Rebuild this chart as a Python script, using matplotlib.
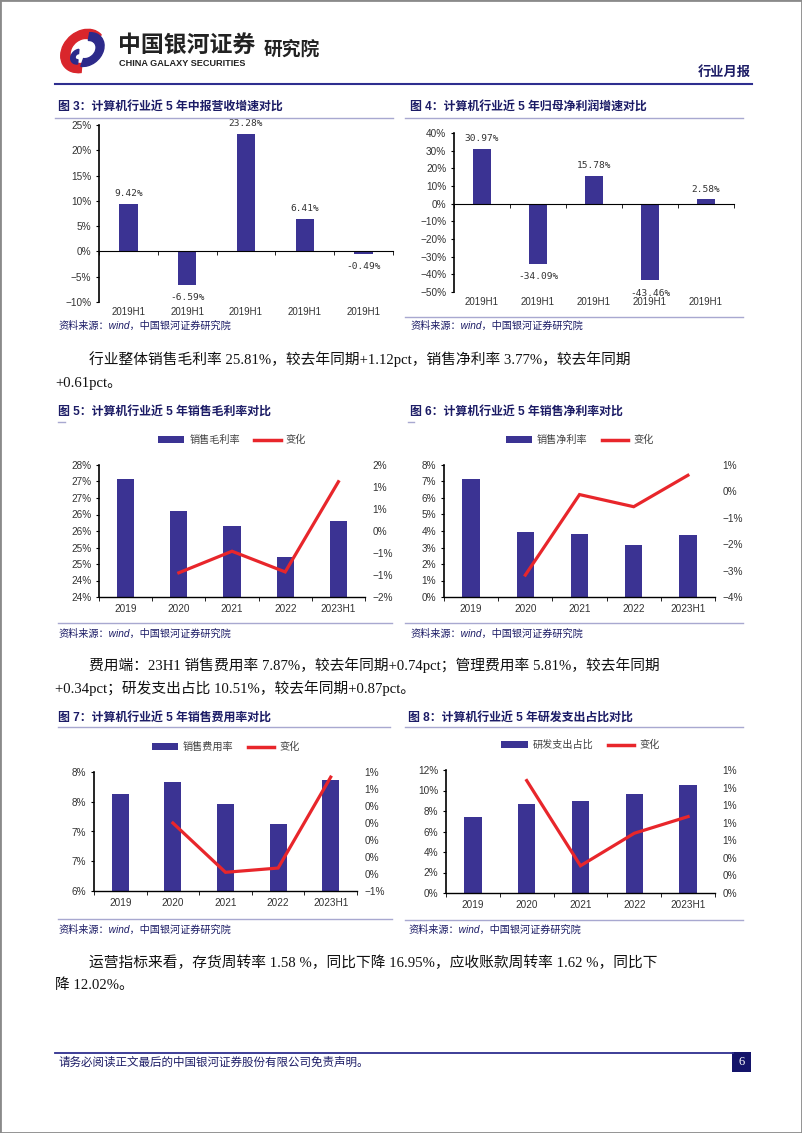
import math
import numpy as np
import matplotlib
matplotlib.use('Agg')
import matplotlib.pyplot as plt
from matplotlib.patches import Rectangle, Wedge, Patch
from matplotlib.lines import Line2D
from matplotlib.ticker import FuncFormatter
from matplotlib.transforms import Affine2D

plt.rcParams['font.family'] = ['Liberation Sans', 'Noto Sans CJK SC', 'DejaVu Sans']

W, H = 802, 1133

# ---- data ----
h1_labels = ['2019H1', '2019H1', '2019H1', '2019H1', '2019H1']
revenue_growth = [9.42, -6.59, 23.28, 6.41, -0.49]
profit_growth = [30.97, -34.09, 15.78, -43.46, 2.58]

years = ['2019', '2020', '2021', '2022', '2023H1']
gross_margin = [27.08, 26.11, 25.65, 24.71, 25.81]
gross_change = [-0.95, -0.46, -0.93, 1.12]
net_margin = [7.15, 3.96, 3.80, 3.18, 3.77]
net_change = [-3.17, -0.12, -0.58, 0.61]
sell_exp = [7.63, 7.84, 7.46, 7.13, 7.87]
sell_change = [0.20, -0.38, -0.33, 0.74]
rd_ratio = [7.46, 8.72, 9.00, 9.64, 10.51]
rd_change = [1.28, 0.31, 0.68, 0.87]

BAR = '#3B3393'
RED = '#E8262B'
NAVY = '#1c1c66'
RULE = '#a8a8d0'
TICKC = '#333333'

fig = plt.figure(figsize=(W / 100, H / 100), dpi=100)


def px_axes(x0, y0, x1, y1):
    return fig.add_axes([x0 / W, 1 - y1 / H, (x1 - x0) / W, (y1 - y0) / H])


def ftext(x, y, s, **kw):
    kw.setdefault('va', 'center')
    fig.text(x / W, 1 - y / H, s, **kw)


def hline(x0, x1, y, color=RULE, lw=1.0):
    fig.add_artist(Line2D([x0 / W, x1 / W], [1 - y / H, 1 - y / H], color=color, lw=lw))


def pct_round(v, pos=None):
    # whole-percent labels, halves rounded away from zero
    n = int(math.floor(abs(v) + 0.5 + 1e-9))
    if v < 0 and n != 0:
        return '\u2212%d%%' % n
    return '%d%%' % n


def growth_chart(box, labels, vals, lo, hi, step):
    ax = px_axes(*box)
    x = np.arange(len(vals))
    ax.bar(x, vals, width=0.31, color=BAR, zorder=2)
    ax.set_xlim(-0.5, len(vals) - 0.5)
    ax.set_ylim(lo, hi)
    ax.set_yticks(np.arange(lo, hi + step / 2, step))
    ax.yaxis.set_major_formatter(FuncFormatter(pct_round))
    for s in ['top', 'right']:
        ax.spines[s].set_visible(False)
    ax.spines['bottom'].set_position(('data', 0))
    ax.spines['bottom'].set_zorder(3)
    ax.spines['left'].set_linewidth(1.2)
    ax.set_xticks(x)
    ax.set_xticks(np.arange(-0.5, len(vals)), minor=True)
    ax.tick_params(axis='x', which='major', length=0, labelbottom=False)
    ax.tick_params(axis='x', which='minor', length=3, direction='out')
    ax.tick_params(axis='y', length=2.5, pad=3, labelsize=7.2, labelcolor=TICKC)
    for i, (lab, v) in enumerate(zip(labels, vals)):
        ax.annotate(lab, (i, 0), xycoords=('data', 'axes fraction'), xytext=(0, -3.3),
                    textcoords='offset points', ha='center', va='top', fontsize=7, color=TICKC)
        up = v >= 0
        ax.annotate('%.2f%%' % v, (i, v), xytext=(0, 4 if up else -6), textcoords='offset points',
                    ha='center', va='bottom' if up else 'top', fontsize=6.8,
                    family='DejaVu Sans Mono', color=TICKC, annotation_clip=False)
    return ax


def margin_chart(box, cats, bars, change, bar_label, lo, hi, step, rlo, rhi, rstep):
    ax = px_axes(*box)
    x = np.arange(len(cats))
    ax.bar(x, bars, width=0.32, color=BAR)
    ax.set_xlim(-0.5, len(cats) - 0.5)
    ax.set_ylim(lo, hi)
    ax.set_yticks(np.arange(lo, hi + step / 2, step))
    ax.yaxis.set_major_formatter(FuncFormatter(pct_round))
    for s in ['top', 'right']:
        ax.spines[s].set_visible(False)
    ax.spines['left'].set_linewidth(1.2)
    ax.spines['bottom'].set_linewidth(1.0)
    ax.set_xticks(x)
    ax.set_xticklabels(cats)
    ax.set_xticks(np.arange(-0.5, len(cats)), minor=True)
    ax.tick_params(axis='x', which='major', length=0, pad=5, labelsize=7.2, labelcolor=TICKC)
    ax.tick_params(axis='x', which='minor', length=3, direction='out')
    ax.tick_params(axis='y', length=2.5, pad=3, labelsize=7.2, labelcolor=TICKC)

    ax2 = ax.twinx()
    ax2.plot(x[1:], change, color=RED, lw=2.3, solid_joinstyle='miter')
    ax2.set_ylim(rlo, rhi)
    ax2.set_yticks(np.arange(rlo, rhi + rstep / 2, rstep))
    ax2.yaxis.set_major_formatter(FuncFormatter(pct_round))
    for s in ax2.spines.values():
        s.set_visible(False)
    ax2.tick_params(axis='y', length=0, pad=5.5, labelsize=7.2, labelcolor=TICKC)

    axh = box[3] - box[1]
    handles = [Patch(facecolor=BAR, edgecolor='none'), Line2D([], [], color=RED, lw=2.5)]
    ax2.legend(handles, [bar_label, '变化'], loc='center', bbox_to_anchor=(0.5, 1 + 25 / axh),
               ncol=2, frameon=False, fontsize=7.3, handlelength=2.6, handleheight=0.65,
               columnspacing=1.4, handletextpad=0.5, labelcolor='#404040')
    return ax


# ---- page frame and header ----
fig.add_artist(Rectangle((0, 0), 1, 1, transform=fig.transFigure, fill=False,
                         edgecolor='#8a8a8a', lw=2))

logo = px_axes(52, 25, 114, 77)
logo.set_xlim(-1.2, 1.2)
logo.set_ylim(-1.2, 1.2)
logo.axis('off')
tilt = Affine2D().scale(0.8, 1.05).rotate_deg(-28) + logo.transData
logo.add_patch(Wedge((0, 0), 1.0, 70, 300, width=0.42, color='#D9262C', transform=tilt))
logo.add_patch(Wedge((0.12, 0.12), 0.78, -75, 115, width=0.36, color='#2D2A8A', transform=tilt))
logo.add_patch(Wedge((-0.05, -0.3), 0.34, 120, 300, width=0.2, color='#2D2A8A', transform=tilt))

ftext(118, 45, '中国银河证券', fontsize=16.5, fontweight='bold', color='#222222')
ftext(119, 64, 'CHINA GALAXY SECURITIES', fontsize=6.6, fontweight='bold', color='#222222')
ftext(264, 50, '研究院', fontsize=13.5, fontweight='bold', color='#222222')
ftext(751, 73, '行业月报', fontsize=9.5, fontweight='bold', color=NAVY, ha='right')
hline(55, 752, 84, color='#2E2E8F', lw=1.5)

# ---- figure 3 / 4 ----
ftext(58, 107, '图 3：计算机行业近 5 年中报营收增速对比', fontsize=8.6, fontweight='bold', color=NAVY)
ftext(410, 107, '图 4：计算机行业近 5 年归母净利润增速对比', fontsize=8.6, fontweight='bold', color=NAVY)
hline(55, 393, 118)
hline(405, 743, 118)
growth_chart((99, 125, 393, 302), h1_labels, revenue_growth, -10, 25, 5)
growth_chart((454, 133, 734, 292), h1_labels, profit_growth, -50, 40, 10)
hline(405, 743, 317)
ftext(58, 326, '资料来源：wind，中国银河证券研究院', fontsize=7.3, color=NAVY, style='italic')
ftext(410, 326, '资料来源：wind，中国银河证券研究院', fontsize=7.3, color=NAVY, style='italic')

body = dict(fontsize=10.6, color='#111111', family=['Liberation Serif', 'Noto Sans CJK SC'])
ftext(89, 359, '行业整体销售毛利率 25.81%，较去年同期+1.12pct，销售净利率 3.77%，较去年同期', **body)
ftext(55, 383, '+0.61pct。', **body)

# ---- figure 5 / 6 ----
ftext(58, 412, '图 5：计算机行业近 5 年销售毛利率对比', fontsize=8.6, fontweight='bold', color=NAVY)
ftext(410, 412, '图 6：计算机行业近 5 年销售净利率对比', fontsize=8.6, fontweight='bold', color=NAVY)
hline(58, 65, 422)
hline(408, 414, 422)
margin_chart((99, 465, 365, 597), years, gross_margin, gross_change, '销售毛利率',
             23.5, 27.5, 0.5, -1.5, 1.5, 0.5)
margin_chart((444, 465, 715, 597), years, net_margin, net_change, '销售净利率',
             0, 8, 1, -4, 1, 1)
hline(58, 392, 623)
hline(405, 743, 623)
ftext(58, 634, '资料来源：wind，中国银河证券研究院', fontsize=7.3, color=NAVY, style='italic')
ftext(410, 634, '资料来源：wind，中国银河证券研究院', fontsize=7.3, color=NAVY, style='italic')

ftext(89, 665, '费用端：23H1 销售费用率 7.87%，较去年同期+0.74pct；管理费用率 5.81%，较去年同期', **body)
ftext(55, 688, '+0.34pct；研发支出占比 10.51%，较去年同期+0.87pct。', **body)

# ---- figure 7 / 8 ----
ftext(58, 718, '图 7：计算机行业近 5 年销售费用率对比', fontsize=8.6, fontweight='bold', color=NAVY)
ftext(408, 718, '图 8：计算机行业近 5 年研发支出占比对比', fontsize=8.6, fontweight='bold', color=NAVY)
hline(58, 390, 727)
hline(405, 743, 727)
margin_chart((94, 772, 357, 891), years, sell_exp, sell_change, '销售费用率',
             6, 8, 0.5, -0.6, 0.8, 0.2)
margin_chart((446, 770, 715, 893), years, rd_ratio, rd_change, '研发支出占比',
             0, 12, 2, 0, 1.4, 0.2)
hline(58, 392, 919)
hline(405, 743, 920)
ftext(58, 930, '资料来源：wind，中国银河证券研究院', fontsize=7.3, color=NAVY, style='italic')
ftext(408, 930, '资料来源：wind，中国银河证券研究院', fontsize=7.3, color=NAVY, style='italic')

ftext(89, 963, '运营指标来看，存货周转率 1.58 %，同比下降 16.95%，应收账款周转率 1.62 %，同比下', **body)
ftext(55, 985, '降 12.02%。', **body)

# ---- footer ----
hline(55, 733, 1053, color='#2E2E8F', lw=1.3)
ftext(58, 1063, '请务必阅读正文最后的中国银河证券股份有限公司免责声明。', fontsize=8.3, color=NAVY)
fig.add_artist(Rectangle((732 / W, 1 - 1072 / H), 19 / W, 20 / H, transform=fig.transFigure,
                         facecolor='#14146a', edgecolor='none'))
ftext(741.5, 1062, '6', fontsize=9, color='white', ha='center', family='Liberation Serif')

fig.savefig('out.png', dpi=100)
